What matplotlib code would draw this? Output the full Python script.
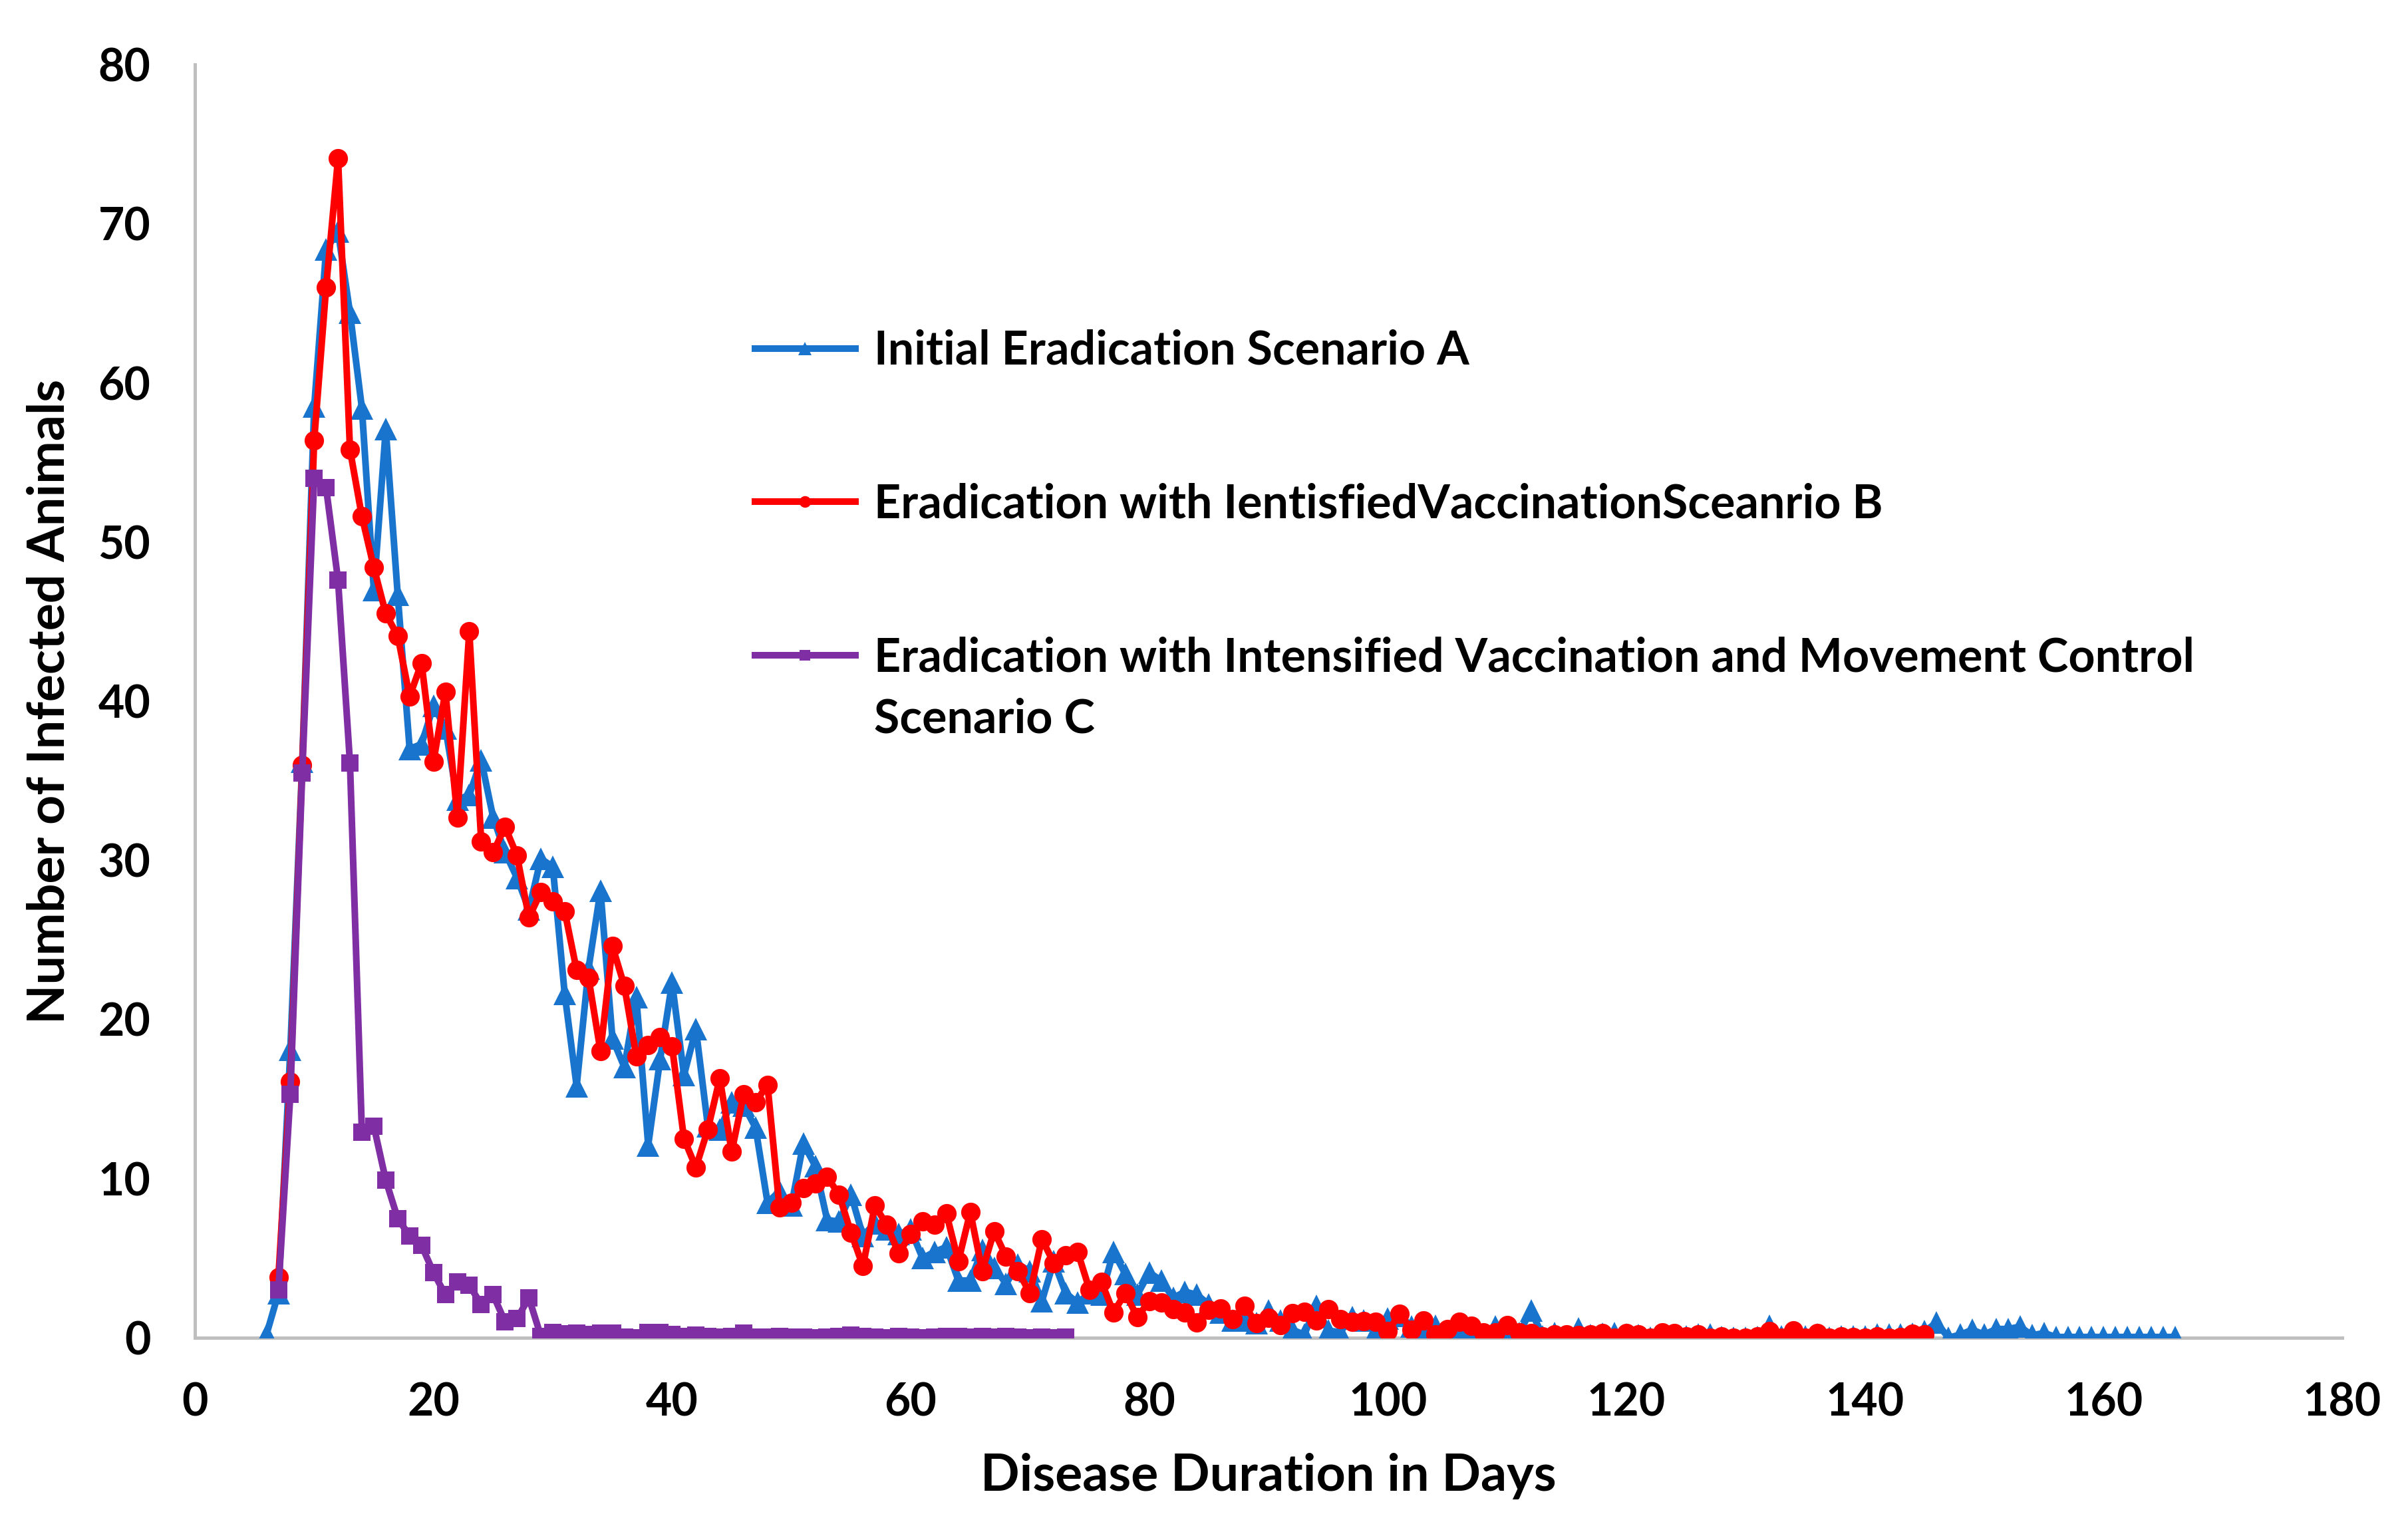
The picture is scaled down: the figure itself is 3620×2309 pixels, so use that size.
import matplotlib
matplotlib.use("Agg")
import matplotlib.pyplot as plt
import numpy as np

plt.rcParams['font.family'] = ['Lato', 'DejaVu Sans']
plt.rcParams['font.weight'] = 'bold'

# ---------------- data ----------------
days_a = list(range(6, 167))
scenario_a = [
    0.2, 2.8, 18.1, 36.2, 58.5, 68.4, 69.5, 64.4, 58.4, 47.0,      # 6-15
    57.1, 46.7, 37.0, 37.3, 39.7, 38.3, 33.8, 34.1, 36.3, 32.7,     # 16-25
    30.5, 28.9, 26.9, 30.1, 29.6, 21.6, 15.8, 23.2, 28.1, 18.8,     # 26-35
    17.0, 21.4, 12.1, 17.5, 22.3, 16.5, 19.4, 13.3, 13.1, 14.8,     # 36-45
    14.6, 13.2, 8.5, 9.2, 8.3, 12.2, 10.8, 7.4, 7.3, 9.0,           # 46-55
    6.4, 7.2, 6.8, 6.5, 6.8, 5.0, 5.4, 5.7, 3.6, 3.6,               # 56-65
    5.5, 4.4, 3.4, 4.6, 4.2, 2.3, 4.8, 2.8, 2.2, 2.8,               # 66-75
    2.7, 5.4, 4.0, 2.7, 4.1, 3.6, 2.5, 2.9, 2.7, 2.1,               # 76-85
    1.6, 1.1, 1.1, 0.9, 1.7, 1.1, 0.5, 0.2, 2.0, 0.45,              # 86-95
    0.35, 1.3, 1.1, 0.4, 1.2, 1.4, 0.7, 0.6, 0.75, 0.1,             # 96-105
    0.3, 0.0, 0.2, 0.7, 0.2, 0.3, 1.7, 0.1, 0.3, 0.1,               # 106-115
    0.6, 0.15, 0.25, 0.3, 0.2, 0.15, 0.0, 0.1, 0.1, 0.1,            # 116-125
    0.2, 0.2, 0.05, 0.0, 0.0, 0.05, 0.75, 0.1, 0.0, 0.1,            # 126-135
    0.2, 0.0, 0.1, 0.1, 0.1, 0.2, 0.2, 0.2, 0.25, 0.4,              # 136-145
    0.95, 0.0, 0.2, 0.5, 0.2, 0.55, 0.55, 0.7, 0.15, 0.3,           # 146-155
    0.05, 0.05, 0.05, 0.05, 0.05, 0.05, 0.05, 0.05, 0.05, 0.05,     # 156-165
    0.05,                                                           # 166
]

days_b = list(range(7, 146))
scenario_b = [
    3.8, 16.1, 36.0, 56.4, 66.0, 74.1, 55.8, 51.6, 48.4,            # 7-15
    45.5, 44.1, 40.3, 42.4, 36.2, 40.6, 32.7, 44.4, 31.2, 30.5,     # 16-25
    32.1, 30.3, 26.4, 28.0, 27.4, 26.8, 23.1, 22.6, 18.0, 24.6,     # 26-35
    22.1, 17.7, 18.4, 18.9, 18.3, 12.5, 10.7, 13.1, 16.3, 11.7,     # 36-45
    15.3, 14.8, 15.9, 8.2, 8.5, 9.4, 9.7, 10.1, 9.0, 6.6,           # 46-55
    4.5, 8.3, 7.1, 5.3, 6.5, 7.3, 7.1, 7.8, 4.8, 7.9,               # 56-65
    4.2, 6.7, 5.1, 4.2, 2.8, 6.2, 4.7, 5.2, 5.4, 3.0,               # 66-75
    3.5, 1.6, 2.8, 1.3, 2.3, 2.2, 1.8, 1.6, 0.95, 1.75,             # 76-85
    1.85, 1.15, 2.0, 0.9, 1.25, 0.8, 1.55, 1.65, 1.1, 1.8,          # 86-95
    1.15, 1.0, 1.05, 1.0, 0.4, 1.5, 0.5, 1.1, 0.2, 0.55,            # 96-105
    1.0, 0.75, 0.35, 0.35, 0.8, 0.35, 0.3, 0.1, 0.2, 0.2,           # 106-115
    0.15, 0.2, 0.3, 0.0, 0.3, 0.2, 0.0, 0.35, 0.3, 0.1,             # 116-125
    0.2, 0.0, 0.1, 0.0, 0.0, 0.1, 0.4, 0.0, 0.45, 0.0,              # 126-135
    0.3, 0.0, 0.1, 0.05, 0.0, 0.1, 0.0, 0.05, 0.25, 0.2,            # 136-145
]

days_c = list(range(7, 74))
scenario_c = [
    3.0, 15.3, 35.5, 54.0, 53.4, 47.6, 36.1, 12.9, 13.3,            # 7-15
    9.9, 7.5, 6.4, 5.8, 4.1, 2.7, 3.5, 3.3, 2.1, 2.7,               # 16-25
    1.0, 1.2, 2.5, 0.1, 0.35, 0.25, 0.3, 0.2, 0.3, 0.3,             # 26-35
    0.05, 0.0, 0.35, 0.35, 0.2, 0.1, 0.15, 0.1, 0.05, 0.1,          # 36-45
    0.3, 0.05, 0.05, 0.1, 0.05, 0.05, 0.0, 0.05, 0.1, 0.15,         # 46-55
    0.1, 0.05, 0.0, 0.1, 0.05, 0.0, 0.05, 0.1, 0.1, 0.05,           # 56-65
    0.1, 0.05, 0.1, 0.05, 0.0, 0.05, 0.0, 0.05,                     # 66-73
]

labels = [
    "Initial Eradication Scenario A",
    "Eradication with IentisfiedVaccinationSceanrio B",
    "Eradication with Intensified Vaccination and Movement Control",
]
label_c_second_line = "Scenario C"
x_ticks = list(range(0, 181, 20))
y_ticks = list(range(0, 81, 10))

# ---------------- figure ----------------
W, H, DPI = 3620, 2309, 300
fig = plt.figure(figsize=(W / DPI, H / DPI), dpi=DPI)
ax = fig.add_axes([293 / W, 1 - 2011 / H, (3521 - 293) / W, (2011 - 97) / H])

blue = "#1874CD"
red = "#FF0000"
purple = "#7F2FA3"
lw = 2.4

la, = ax.plot(days_a, scenario_a, color=blue, lw=lw, marker="^", ms=8.0,
              markeredgewidth=0, zorder=3, label=labels[0])
lb, = ax.plot(days_b, scenario_b, color=red, lw=lw, marker="o", ms=7.0,
              markeredgewidth=0, zorder=4, label=labels[1])
lc, = ax.plot(days_c, scenario_c, color=purple, lw=lw, marker="s", ms=6.3,
              markeredgewidth=0, zorder=5, label=labels[2])

ax.set_xlim(0, 180)
ax.set_ylim(0, 80)
ax.set_xticks(x_ticks)
ax.set_yticks(y_ticks)
ax.tick_params(axis="both", length=0, labelsize=16.3)
ax.tick_params(axis="x", pad=16)
ax.tick_params(axis="y", pad=16)
for t in ax.get_xticklabels() + ax.get_yticklabels():
    t.set_fontweight("bold")

for s in ["top", "right"]:
    ax.spines[s].set_visible(False)
for s in ["left", "bottom"]:
    ax.spines[s].set_color("#BFBFBF")
    ax.spines[s].set_linewidth(1.2)

ax.set_xlabel("Disease Duration in Days", fontsize=18.5, fontweight="bold")
ax.set_ylabel("Number of Infected Animals", fontsize=18.5, fontweight="bold")
ax.xaxis.set_label_coords(0.5, (2011 - 2184) / (2011 - 97))
ax.yaxis.set_label_coords((110 - 293) / (3521 - 293), 0.5)

leg = ax.legend(handles=[la, lb, lc], loc="upper left",
                bbox_to_anchor=((1135 - 293) / 3228, (2011 - 495) / 1914),
                frameon=False, fontsize=16.8, handlelength=2.15,
                handletextpad=0.40, labelspacing=2.37, borderpad=0,
                borderaxespad=0, markerscale=0.6)
leg.set_zorder(6)
for t in leg.get_texts():
    t.set_fontweight("bold")

ax.annotate(label_c_second_line, xy=(0, 0), xycoords=leg.get_texts()[2],
            xytext=(0, -6.3), textcoords="offset points", va="top", ha="left",
            fontsize=16.8, fontweight="bold", zorder=10)

fig.savefig("out.png", dpi=DPI)
